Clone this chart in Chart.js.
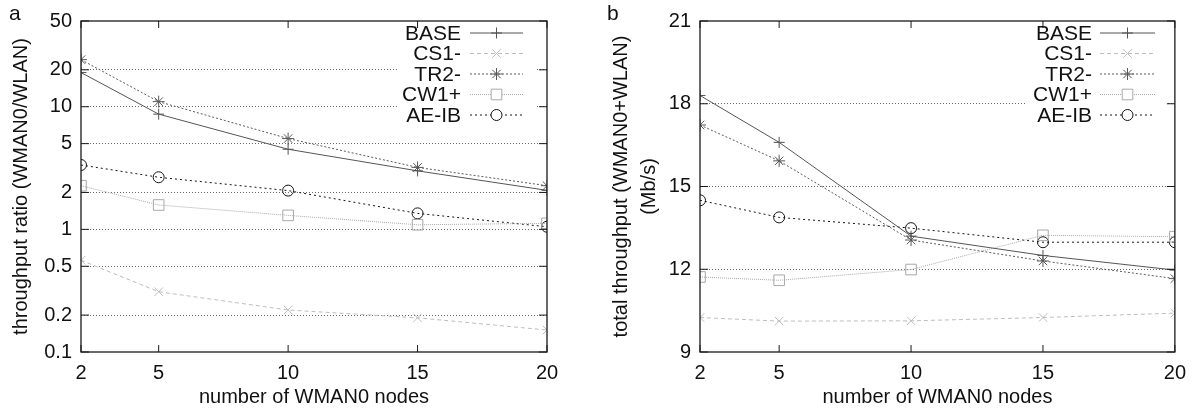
<!DOCTYPE html>
<html>
<head>
<meta charset="utf-8">
<script src="https://cdn.jsdelivr.net/npm/chart.js@4/dist/chart.umd.min.js"></script>
<style>
  body { margin: 0; background: #fff; }
  #wrap { position: relative; width: 1195px; height: 413px; font-family: "Liberation Sans", Arial, sans-serif; }
  .panel { position: absolute; top: 0; height: 413px; }
  .tag { position: absolute; top: 1px; font-size: 21px; color: #111; }
</style>
</head>
<body>
<div id="wrap">
  <div class="panel" style="left:0;width:597px"><canvas id="chartA" width="597" height="413"></canvas></div>
  <div class="panel" style="left:597px;width:598px"><canvas id="chartB" width="598" height="413"></canvas></div>
  <div class="tag" style="left:9px">a</div>
  <div class="tag" style="left:607px">b</div>
</div>
<script>
// x values (number of WMAN0 nodes)
const xNodes = [2, 5, 10, 15, 20];
const seriesNames = ['BASE', 'CS1-', 'TR2-', 'CW1+', 'AE-IB'];

// panel a: throughput ratio (log scale)
const ratioBase = [19, 8.7, 4.5, 3.0, 2.08];
const ratioCs1 = [0.56, 0.31, 0.22, 0.19, 0.151];
const ratioTr2 = [24.2, 11, 5.5, 3.2, 2.27];
const ratioCw1 = [2.27, 1.58, 1.3, 1.09, 1.12];
const ratioAeib = [3.35, 2.66, 2.07, 1.35, 1.05];
const ratioTicks = [0.1, 0.2, 0.5, 1, 2, 5, 10, 20, 50];

// panel b: total throughput (Mb/s)
const totalBase = [18.3, 16.6, 13.2, 12.5, 11.97];
const totalCs1 = [10.25, 10.12, 10.13, 10.25, 10.41];
const totalTr2 = [17.23, 15.93, 13.06, 12.3, 11.66];
const totalCw1 = [11.72, 11.6, 11.99, 13.23, 13.18];
const totalAeib = [14.5, 13.88, 13.49, 12.98, 12.98];
const totalTicks = [9, 12, 15, 18, 21];

const FONT = '"Liberation Sans", Arial, sans-serif';

const styles = [
  { color: '#555555', dash: [], point: 'cross', radius: 5.5 },
  { color: '#bdbdbd', dash: [4, 3], point: 'crossRot', radius: 6 },
  { color: '#5a5a5a', dash: [2, 2], point: 'star', radius: 6 },
  { color: '#a8a8a8', dash: [1, 1], point: 'rect', radius: 7.5 },
  { color: '#151515', dash: [2, 3], point: 'circle', radius: 5.5 }
];

function makeDatasets(values) {
  return values.map((vals, i) => ({
    label: seriesNames[i],
    data: xNodes.map((x, j) => ({ x: x, y: vals[j] })),
    borderColor: styles[i].color,
    borderWidth: 1,
    borderDash: styles[i].dash,
    pointStyle: styles[i].point,
    pointRadius: styles[i].radius,
    pointBorderColor: styles[i].color,
    pointBackgroundColor: 'rgba(0,0,0,0)',
    pointBorderWidth: 1,
    fill: false,
    tension: 0
  }));
}

// frame, inward ticks, legend with white background
const framePlugin = {
  id: 'frame',
  beforeDatasetsDraw(chart, args, opts) {
    const ctx = chart.ctx;
    ctx.save();
    ctx.fillStyle = '#fff';
    ctx.fillRect(opts.boxLeft, chart.chartArea.top + 1, opts.boxRight - opts.boxLeft, opts.boxBottom - chart.chartArea.top);
    ctx.restore();
  },
  afterDraw(chart, args, opts) {
    const ctx = chart.ctx;
    const a = chart.chartArea;
    const xs = chart.scales.x, ys = chart.scales.y;
    ctx.save();
    ctx.strokeStyle = '#1a1a1a';
    ctx.lineWidth = 1.3;
    ctx.setLineDash([]);
    ctx.strokeRect(a.left, a.top, a.right - a.left, a.bottom - a.top);
    ctx.lineWidth = 1;
    ctx.beginPath();
    xs.ticks.forEach(t => {
      const px = xs.getPixelForValue(t.value);
      ctx.moveTo(px, a.bottom); ctx.lineTo(px, a.bottom - 7);
      ctx.moveTo(px, a.top); ctx.lineTo(px, a.top + 7);
    });
    ys.ticks.forEach(t => {
      const py = ys.getPixelForValue(t.value);
      ctx.moveTo(a.left, py); ctx.lineTo(a.left + 8, py);
      ctx.moveTo(a.right, py); ctx.lineTo(a.right - 8, py);
    });
    ctx.stroke();

    // legend
    ctx.font = '21px ' + FONT;
    ctx.textAlign = 'right';
    ctx.textBaseline = 'middle';
    chart.data.datasets.forEach((ds, i) => {
      const y = opts.rowTop + i * opts.rowGap;
      ctx.fillStyle = '#111';
      ctx.fillText(ds.label, opts.textRight, y + 1);
      ctx.strokeStyle = ds.borderColor;
      ctx.lineWidth = 1;
      ctx.setLineDash(ds.borderDash);
      ctx.beginPath();
      ctx.moveTo(opts.lineLeft, y);
      ctx.lineTo(opts.lineRight, y);
      ctx.stroke();
      ctx.setLineDash([]);
      ctx.fillStyle = '#fff';
      ctx.strokeStyle = ds.borderColor;
      Chart.helpers.drawPoint(ctx, {
        pointStyle: ds.pointStyle, radius: ds.pointRadius, borderWidth: 1, rotation: 0
      }, (opts.lineLeft + opts.lineRight) / 2, y);
    });
    ctx.restore();
  }
};

function makeChart(id, values, yCfg, yWidth, padRight, titleText, titlePad, legendOpts) {
  return new Chart(document.getElementById(id), {
    type: 'line',
    data: { datasets: makeDatasets(values) },
    plugins: [framePlugin],
    options: {
      responsive: false,
      animation: false,
      layout: { padding: { top: 19, right: padRight, left: 0, bottom: 0 } },
      plugins: { legend: { display: false }, tooltip: { enabled: false }, frame: legendOpts },
      scales: {
        x: {
          type: 'linear',
          min: 2, max: 20,
          afterBuildTicks: s => { s.ticks = xNodes.map(v => ({ value: v })); },
          afterFit: s => { s.height = 61; },
          grid: { display: false, drawTicks: false },
          border: { display: false },
          ticks: { color: '#111', padding: 9, font: { family: FONT, size: 20 }, callback: v => String(v) },
          title: { display: true, text: 'number of WMAN0 nodes', color: '#111', padding: { top: 0, bottom: 4 },
                   font: { family: FONT, size: 20 } }
        },
        y: Object.assign({
          afterFit: s => { s.width = yWidth; },
          grid: {
            drawTicks: false,
            color: c => (c.index === 0 || c.index === c.scale.ticks.length - 1) ? 'rgba(0,0,0,0)' : '#6a6a6a',
            lineWidth: 1
          },
          border: { display: false, dash: [1, 2] },
          ticks: { color: '#111', padding: 9, font: { family: FONT, size: 20 }, callback: v => String(v) },
          title: { display: true, text: titleText, color: '#111', padding: { top: titlePad, bottom: 0 },
                   font: { family: FONT, size: 20, lineHeight: 1.4 } }
        }, yCfg)
      }
    }
  });
}

const chartA = makeChart('chartA',
  [ratioBase, ratioCs1, ratioTr2, ratioCw1, ratioAeib],
  { type: 'logarithmic', min: 0.1, max: 50,
    afterBuildTicks: s => { s.ticks = ratioTicks.map(v => ({ value: v })); } },
  81, 50, 'throughput ratio (WMAN0/WLAN)', 7,
  { boxLeft: 398, boxRight: 535, boxBottom: 126, rowTop: 33, rowGap: 20.5, textRight: 461, lineLeft: 470, lineRight: 523 });

const chartB = makeChart('chartB',
  [totalBase, totalCs1, totalTr2, totalCw1, totalAeib],
  { type: 'linear', min: 9, max: 21,
    afterBuildTicks: s => { s.ticks = totalTicks.map(v => ({ value: v })); } },
  103, 17, ['total throughput (WMAN0+WLAN)', '(Mb/s)'], 10,
  { boxLeft: 429, boxRight: 570, boxBottom: 126, rowTop: 33, rowGap: 20.5, textRight: 495, lineLeft: 503, lineRight: 558 });
</script>
</body>
</html>
